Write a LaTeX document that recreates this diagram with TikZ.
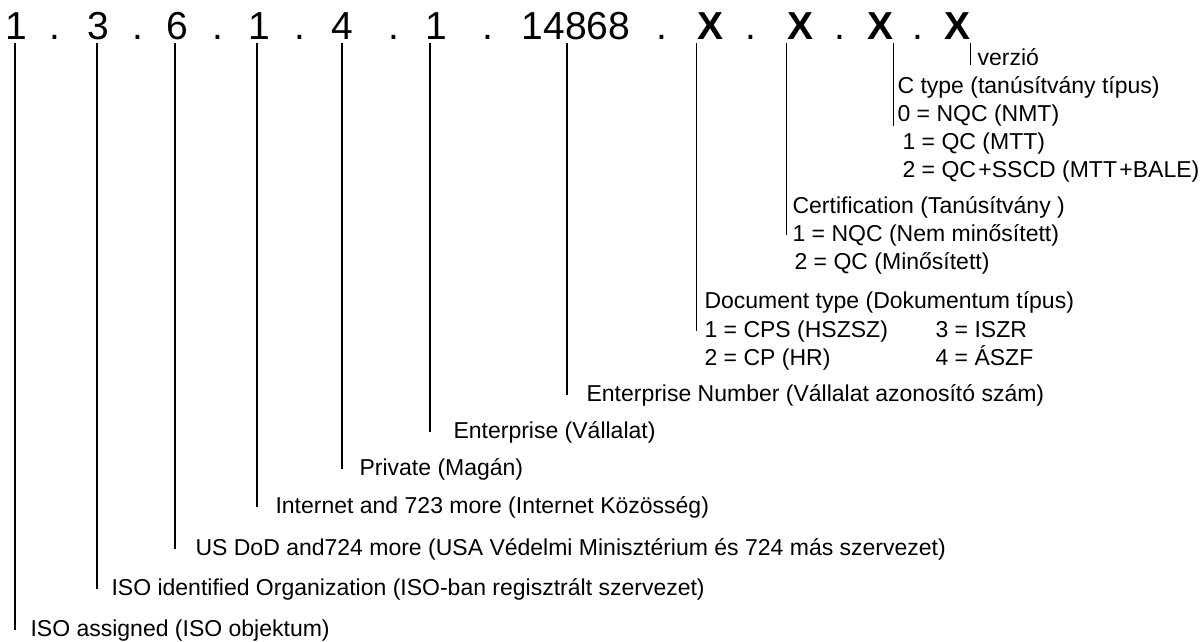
\documentclass[tikz,border=0pt]{standalone}
\usepackage{fontspec}
\setmainfont{Liberation Sans}
\begin{document}
\begin{tikzpicture}[x=1pt, y=-1pt, line width=1.1pt,
  oid/.style={inner sep=0pt, anchor=base, font=\fontsize{39}{40}\selectfont},
  oidx/.style={oid, font=\fontsize{39}{40}\selectfont\bfseries},
  lbl/.style={inner sep=0pt, anchor=base west, font=\fontsize{23}{25}\selectfont},
  stem/.style={shorten <=3pt}]
\useasboundingbox (0,0) rectangle (1202,641);
% the identifier
\node[oid] (d1) at (16,39) {1};   \node[oid] (p1) at (55,39) {.};
\node[oid] (d3) at (98,39) {3};   \node[oid] (p2) at (138,39) {.};
\node[oid] (d6) at (177,39) {6};  \node[oid] (p3) at (218,39) {.};
\node[oid] (d1b) at (259,39) {1}; \node[oid] (p4) at (300,39) {.};
\node[oid] (d4) at (342,39) {4};  \node[oid] (p5) at (394,39) {.};
\node[oid] (d1c) at (436,39) {1}; \node[oid] (p6) at (488,39) {.};
\node[oid] (num) at (576,39) {14868}; \node[oid] (p7) at (662,39) {.};
\node[oidx] (x1) at (710,39) {X}; \node[oid] (p8) at (751,39) {.};
\node[oidx] (x2) at (800,39) {X}; \node[oid] (p9) at (840,39) {.};
\node[oidx] (x3) at (880,39) {X}; \node[oid] (p10) at (918,39) {.};
\node[oidx] (x4) at (957,39) {X};
% the labels
\node[lbl] (verz) at (977,65) {verzió};
\node[lbl] (ctype) at (897,93) {C type (tanúsítvány típus)};
\node[lbl] (ctype0) at (897,121) {0 = NQC (NMT)};
\node[lbl] (ctype1) at (902,149) {1 = QC (MTT)};
\node[lbl] (ctype2) at (902,177) {2 = QC\kern-4pt{} +SSCD (MTT\kern-4pt{} +BALE)};
\node[lbl] (cert) at (792,213) {Certification (Tanúsítvány )};
\node[lbl] (cert1) at (792,241) {1 = NQC (Nem minősített)};
\node[lbl] (cert2) at (794,269) {2 = QC (Minősített)};
\node[lbl] (doct) at (704,308) {Document type (Dokumentum típus)};
\node[lbl] (doc1) at (704,337) {1 = CPS (HSZSZ)};
\node[lbl] (doc2) at (704,365) {2 = CP (HR)};
\node[lbl] (doc3) at (935,337) {3 = ISZR};
\node[lbl] (doc4) at (935,365) {4 = ÁSZF};
\node[lbl] (entnum) at (586,401) {Enterprise Number (Vállalat azonosító szám)};
\node[lbl] (ent) at (453,438) {Enterprise (Vállalat)};
\node[lbl] (priv) at (359,475) {Private (Magán)};
\node[lbl] (inet) at (275,513) {Internet and 723 more (Internet Közösség)};
\node[lbl] (usdod) at (195,555) {US DoD and724 more (USA Védelmi Minisztérium és 724 más szervezet)};
\node[lbl] (isoi) at (111,595) {ISO identified Organization (ISO-ban regisztrált szervezet)};
\node[lbl] (isoa) at (30,636) {ISO assigned (ISO objektum)};
% the stems
\draw[stem] ([xshift=-1pt]d1.south) -- ([xshift=-1pt]d1.south |- isoa.west);
\draw[stem] ([xshift=-1pt]d3.south) -- ([xshift=-1pt]d3.south |- isoi.west);
\draw[stem] ([xshift=-2pt]d6.south) -- ([xshift=-2pt]d6.south |- usdod.west);
\draw[stem] ([xshift=-2pt]d1b.south) -- ([xshift=-2pt]d1b.south |- inet.west);
\draw[stem] (d4.south) -- (d4.south |- priv.west);
\draw[stem] ([xshift=-6pt]d1c.south) -- ([xshift=-6pt]d1c.south |- ent.west);
\draw[stem] ([xshift=-9pt]num.south) -- ([xshift=-9pt]num.south |- entnum.west);
\draw[stem] (x1.south west) -- (x1.south west |- doc1.west);
\draw[stem] (x2.south west) -- (x2.south west |- cert1.west);
\draw[stem] (x3.south east) -- (x3.south east |- ctype0.south);
\draw[stem] (x4.south east) -- (x4.south east |- verz.base);
\end{tikzpicture}
\end{document}
